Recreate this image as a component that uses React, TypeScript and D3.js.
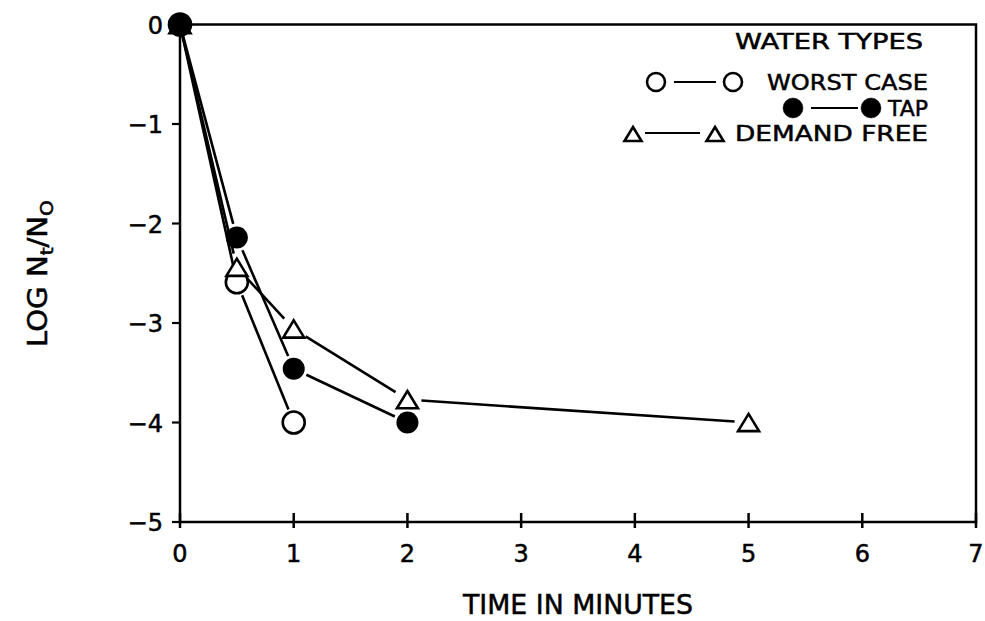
import React from 'react';
import * as d3 from 'd3';

// time in minutes, log Nt/N0
const worstTime = [0, 0.5, 1];
const worstLog = [0, -2.59, -4.0];
const tapTime = [0, 0.5, 1, 2];
const tapLog = [0, -2.14, -3.46, -4.0];
const demandTime = [0, 0.5, 1, 2, 5];
const demandLog = [0, -2.44, -3.06, -3.77, -4.0];

const xTicks = [0, 1, 2, 3, 4, 5, 6, 7];
const yTicks = [0, -1, -2, -3, -4, -5];

const W = 985;
const H = 621;
const FONT = '"DejaVu Sans", Arial, sans-serif';

const tri = (s: number) => `M0,${-s * 0.82}L${s},${s * 0.82}L${-s},${s * 0.82}Z`;

function Marker({ kind, x, y, r }: { kind: string; x: number; y: number; r: number }) {
  if (kind === 'open') return <circle cx={x} cy={y} r={r} fill="#fff" stroke="#000" strokeWidth={2.6} />;
  if (kind === 'filled') return <circle cx={x} cy={y} r={r} fill="#000" />;
  return <path d={tri(r)} transform={`translate(${x},${y})`} fill="#fff" stroke="#000" strokeWidth={2.6} strokeLinejoin="miter" />;
}

export default function App() {
  const x = d3.scaleLinear().domain([0, 7]).range([180, 976]);
  const y = d3.scaleLinear().domain([0, -5]).range([24.5, 522]);

  const series = [
    { kind: 'open', t: worstTime, v: worstLog },
    { kind: 'tri', t: demandTime, v: demandLog },
    { kind: 'filled', t: tapTime, v: tapLog },
  ];

  const gap = 14;
  const segs = (t: number[], v: number[]) => {
    const pts = t.map((d, i) => [x(d), y(v[i])]);
    return d3.pairs(pts).map(([a, b]) => {
      const dx = b[0] - a[0];
      const dy = b[1] - a[1];
      const len = Math.hypot(dx, dy);
      const ux = dx / len;
      const uy = dy / len;
      const g0 = a[0] === x(0) && a[1] === y(0) ? 6 : gap;
      return [a[0] + ux * g0, a[1] + uy * g0, b[0] - ux * gap, b[1] - uy * gap];
    });
  };

  const ink = { stroke: '#000', strokeWidth: 0.5 };

  return (
    <svg width={W} height={H} style={{ position: 'absolute', left: 0, top: 0, background: '#fff' }} fontFamily={FONT}>
      <rect x={0} y={0} width={W} height={H} fill="#fff" />
      {/* frame */}
      <rect x={x(0)} y={y(0)} width={x(7) - x(0)} height={y(-5) - y(0)} fill="none" stroke="#000" strokeWidth={2.5} />

      {/* x ticks */}
      {xTicks.map((t) => (
        <g key={`xt${t}`}>
          <line x1={x(t)} x2={x(t)} y1={y(-5) - 9} y2={y(-5) + 6} stroke="#000" strokeWidth={2.5} />
          <text x={x(t)} y={y(-5) + 40} textAnchor="middle" fontSize={24} {...ink}>{t}</text>
        </g>
      ))}
      {/* y ticks */}
      {yTicks.map((t) => (
        <g key={`yt${t}`}>
          <line x1={x(0) - 8} x2={x(0)} y1={y(t)} y2={y(t)} stroke="#000" strokeWidth={2.2} />
          <text x={x(0) - 17} y={y(t) + 9} textAnchor="end" fontSize={24} {...ink}>{t === 0 ? '0' : `\u2212${-t}`}</text>
        </g>
      ))}

      {/* series lines */}
      {series.map((s) =>
        segs(s.t, s.v).map((d, i) => (
          <line key={`${s.kind}-l${i}`} x1={d[0]} y1={d[1]} x2={d[2]} y2={d[3]} stroke="#000" strokeWidth={2.6} />
        ))
      )}
      {/* markers */}
      {series.map((s) =>
        s.t.map((t, i) => (
          <Marker key={`${s.kind}-m${i}`} kind={s.kind} x={x(t)} y={y(s.v[i])} r={s.kind === 'tri' ? 10.5 : 11} />
        ))
      )}

      {/* legend */}
      <g fontSize={22} {...ink}>
        <text x={735} y={49} textLength={188} lengthAdjust="spacingAndGlyphs">WATER TYPES</text>
        <Marker kind="open" x={656} y={82} r={9} />
        <line x1={674} x2={716} y1={82} y2={82} stroke="#000" strokeWidth={2.2} />
        <Marker kind="open" x={733} y={82} r={9} />
        <text x={767} y={90} textLength={161} lengthAdjust="spacingAndGlyphs">WORST CASE</text>

        <Marker kind="filled" x={793} y={108} r={10} />
        <line x1={811} x2={858} y1={108} y2={108} stroke="#000" strokeWidth={2.2} />
        <Marker kind="filled" x={871} y={108} r={10} />
        <text x={888} y={116} textLength={40} lengthAdjust="spacingAndGlyphs">TAP</text>

        <Marker kind="tri" x={633} y={134} r={8.5} />
        <line x1={645} x2={700} y1={133} y2={133} stroke="#000" strokeWidth={2.2} />
        <Marker kind="tri" x={715} y={134} r={8.5} />
        <text x={735} y={141} textLength={193} lengthAdjust="spacingAndGlyphs">DEMAND FREE</text>
      </g>

      {/* axis titles */}
      <text x={463} y={614} fontSize={27} textLength={230} lengthAdjust="spacingAndGlyphs" {...ink}>TIME IN MINUTES</text>
      <text transform="translate(47,347) rotate(-90)" fontSize={26} textLength={147} lengthAdjust="spacingAndGlyphs" {...ink}>
        LOG N<tspan fontSize={18} dy={6}>t</tspan><tspan dy={-6}>/N</tspan><tspan fontSize={18} dy={6}>O</tspan>
      </text>
    </svg>
  );
}
